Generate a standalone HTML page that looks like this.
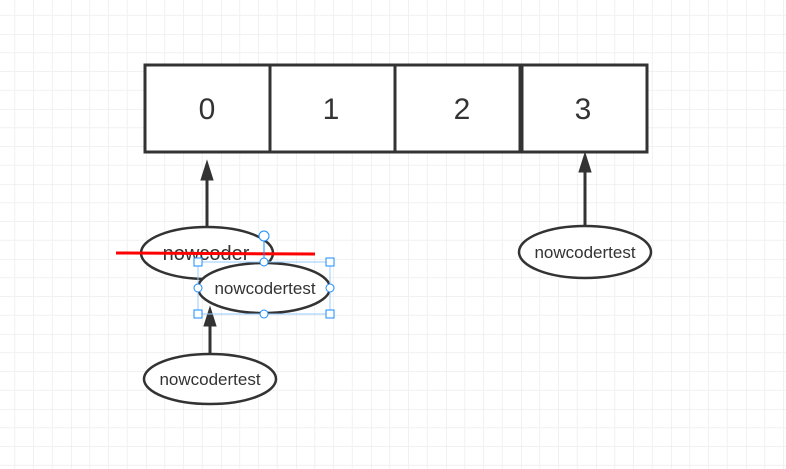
<!DOCTYPE html>
<html><head><meta charset="utf-8"><style>
html,body{margin:0;padding:0;background:#fff;}
svg{display:block;}
text{font-family:"Liberation Sans","DejaVu Sans",sans-serif;fill:#333;}
</style></head><body>
<svg width="786" height="469" viewBox="0 0 786 469" xmlns="http://www.w3.org/2000/svg">
<defs>
<pattern id="g" x="71" y="34" width="75" height="75" patternUnits="userSpaceOnUse">
<path d="M18.75 0V75M37.5 0V75M56.25 0V75M0 18.75H75M0 37.5H75M0 56.25H75" stroke="#f1f1f1" stroke-width="1" fill="none"/>
<path d="M0 0V75M0 0H75" stroke="#e4e4e4" stroke-width="1" fill="none"/>
</pattern>
</defs>
<rect width="786" height="469" fill="url(#g)"/>
<g stroke="#333" stroke-width="3" fill="#fff">
<rect x="145" y="65" width="125" height="87"/>
<rect x="270" y="65" width="125" height="87"/>
<rect x="395" y="65" width="125" height="87"/>
<rect x="522" y="65" width="125" height="87"/>
</g>
<g font-size="30" text-anchor="middle">
<text x="207" y="119">0</text>
<text x="331" y="119">1</text>
<text x="462" y="119">2</text>
<text x="583" y="119">3</text>
</g>
<g stroke="#333" stroke-width="3" fill="#333">
<line x1="207" y1="227" x2="207" y2="176"/>
<polygon points="207,161 201,180 213,180" stroke-width="1"/>
<line x1="585" y1="227" x2="585" y2="168"/>
<polygon points="585,153 579,172 591,172" stroke-width="1"/>
<line x1="210" y1="354" x2="210" y2="322"/>
<polygon points="210,307 204,326 216,326" stroke-width="1"/>
</g>
<g stroke="#333" stroke-width="2.5" fill="#fff">
<ellipse cx="207" cy="253" rx="66" ry="26"/>
<ellipse cx="585" cy="252" rx="66" ry="26"/>
<ellipse cx="210" cy="379" rx="66" ry="25"/>
</g>
<text x="206" y="260" font-size="20" text-anchor="middle">nowcoder</text>
<line x1="116" y1="253" x2="315" y2="254" stroke="#ff0000" stroke-width="3"/>
<ellipse cx="264" cy="288" rx="66" ry="25" stroke="#333" stroke-width="2.5" fill="#fff"/>
<g font-size="17" text-anchor="middle">
<text x="265" y="294">nowcodertest</text>
<text x="585" y="258">nowcodertest</text>
<text x="210" y="385">nowcodertest</text>
</g>
<g stroke="#1a8cff" stroke-width="1" fill="#fff">
<rect x="198" y="262" width="132" height="52" fill="none" stroke="#99ccff"/>
<line x1="264" y1="237" x2="264" y2="262"/>
<circle cx="264" cy="236" r="5"/>
<circle cx="264" cy="262" r="4"/>
<circle cx="198" cy="288" r="4"/>
<circle cx="330" cy="288" r="4"/>
<circle cx="264" cy="314" r="4"/>
<rect x="194" y="258" width="8" height="8"/>
<rect x="326" y="258" width="8" height="8"/>
<rect x="194" y="310" width="8" height="8"/>
<rect x="326" y="310" width="8" height="8"/>
</g>
</svg>
</body></html>
